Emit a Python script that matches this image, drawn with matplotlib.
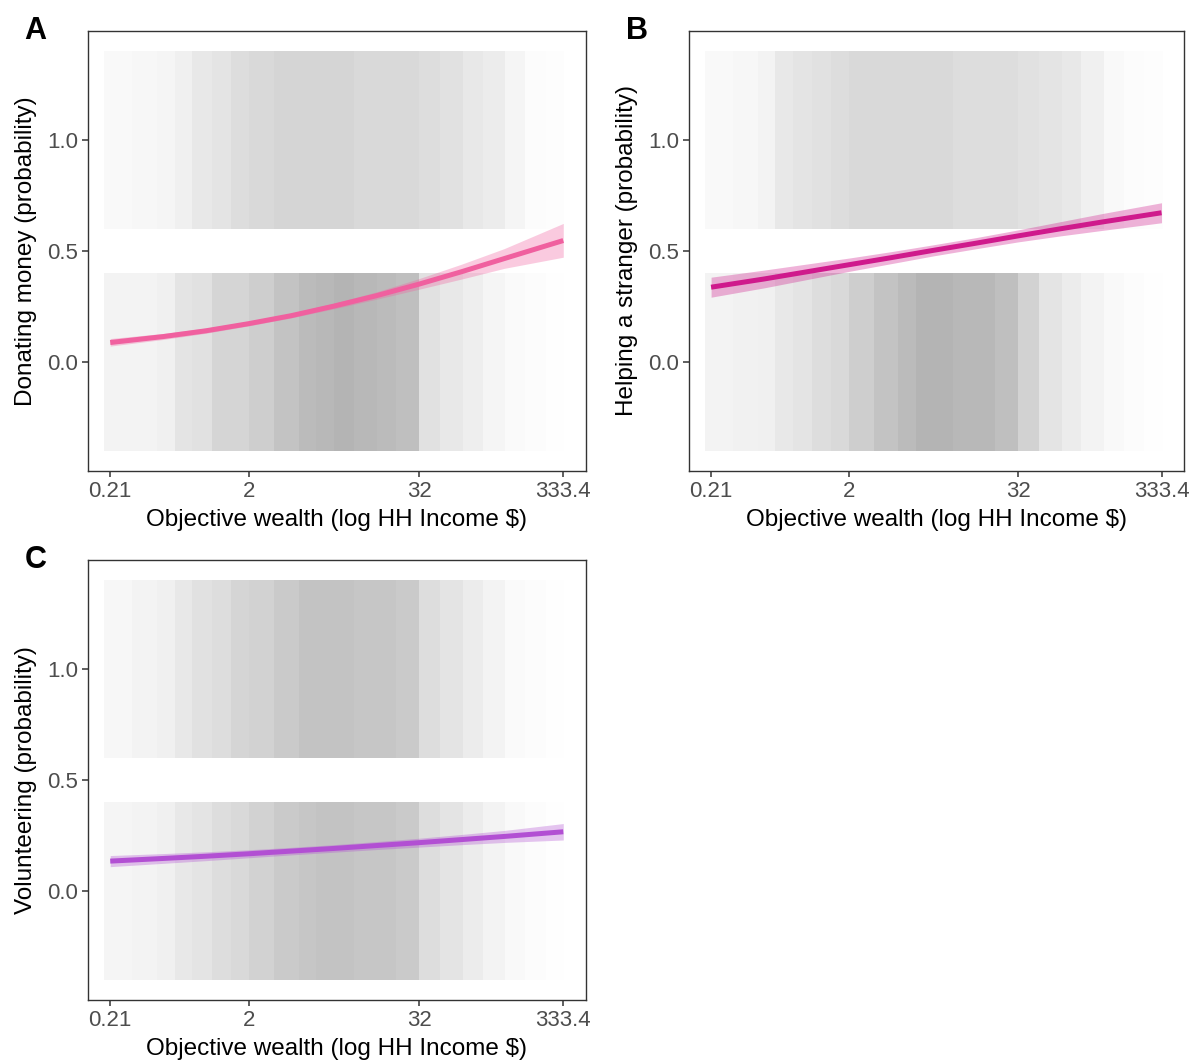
import numpy as np
import matplotlib
matplotlib.use("Agg")
import matplotlib.pyplot as plt

plt.rcParams['font.family'] = ['Liberation Sans', 'DejaVu Sans']

# Income bins (thousands $) shared by the three outcomes
bin_edges = [0.19, 0.3, 0.45, 0.6, 0.8, 1.1, 1.5, 2.0, 3.0, 4.5, 6, 8, 11, 16,
             22, 32, 45, 65, 90, 130, 180, 250, 340]

# Relative density of observations per bin (0 = none, 1 = densest), outcome = 0 / 1
donate_no = [0.15, 0.15, 0.2, 0.35, 0.4, 0.55, 0.55, 0.65, 0.8, 0.9, 0.95, 1.0,
             0.95, 0.9, 0.85, 0.4, 0.3, 0.22, 0.12, 0.06, 0.03, 0.01]
donate_yes = [0.08, 0.1, 0.12, 0.2, 0.3, 0.35, 0.45, 0.5, 0.55, 0.55, 0.55, 0.55,
              0.5, 0.5, 0.5, 0.45, 0.4, 0.3, 0.25, 0.12, 0.04, 0.02]
help_no = [0.15, 0.18, 0.2, 0.3, 0.35, 0.45, 0.5, 0.65, 0.8, 0.9, 1.0, 1.0,
           0.95, 0.95, 0.85, 0.6, 0.35, 0.25, 0.15, 0.08, 0.03, 0.01]
help_yes = [0.08, 0.1, 0.15, 0.3, 0.35, 0.4, 0.45, 0.5, 0.5, 0.5, 0.5, 0.5,
            0.45, 0.45, 0.45, 0.4, 0.35, 0.3, 0.2, 0.08, 0.03, 0.02]
volunteer_no = [0.12, 0.15, 0.2, 0.3, 0.35, 0.45, 0.5, 0.6, 0.7, 0.75, 0.8, 0.8,
                0.75, 0.75, 0.7, 0.45, 0.35, 0.25, 0.15, 0.08, 0.03, 0.01]
volunteer_yes = [0.1, 0.15, 0.2, 0.3, 0.4, 0.45, 0.55, 0.6, 0.7, 0.8, 0.8, 0.8,
                 0.75, 0.75, 0.7, 0.45, 0.35, 0.25, 0.15, 0.06, 0.03, 0.01]

# Fitted logistic curves with 95% CI
fit_x = [0.21, 0.5, 1, 2, 4, 8, 16, 32, 64, 128, 333.4]
donate_fit = [0.088, 0.115, 0.141, 0.173, 0.209, 0.252, 0.299, 0.351, 0.407, 0.466, 0.547]
donate_lo = [0.072, 0.102, 0.130, 0.163, 0.199, 0.240, 0.283, 0.328, 0.374, 0.422, 0.472]
donate_hi = [0.106, 0.129, 0.153, 0.184, 0.220, 0.265, 0.316, 0.376, 0.441, 0.511, 0.624]
help_fit = [0.337, 0.374, 0.406, 0.438, 0.470, 0.503, 0.535, 0.568, 0.600, 0.631, 0.672]
help_lo = [0.292, 0.334, 0.371, 0.408, 0.443, 0.478, 0.510, 0.541, 0.568, 0.593, 0.627]
help_hi = [0.382, 0.414, 0.441, 0.468, 0.497, 0.528, 0.560, 0.595, 0.632, 0.669, 0.717]
volunteer_fit = [0.135, 0.147, 0.157, 0.168, 0.180, 0.192, 0.205, 0.218, 0.232, 0.246, 0.267]
volunteer_lo = [0.110, 0.125, 0.137, 0.150, 0.163, 0.175, 0.187, 0.198, 0.209, 0.219, 0.230]
volunteer_hi = [0.160, 0.169, 0.177, 0.186, 0.197, 0.209, 0.223, 0.238, 0.255, 0.273, 0.304]

x_ticks = [0.21, 2, 32, 333.4]
x_ticklabels = ["0.21", "2", "32", "333.4"]
y_ticks = [0.0, 0.5, 1.0]
y_ticklabels = ["0.0", "0.5", "1.0"]
x_title = "Objective wealth (log HH Income $)"

panels = [
    dict(tag="A", ylabel="Donating money (probability)", no=donate_no, yes=donate_yes,
         fit=donate_fit, lo=donate_lo, hi=donate_hi, color="#f0609f",
         rect=[0.0732, 0.5561, 0.4167, 0.4147]),
    dict(tag="B", ylabel="Helping a stranger (probability)", no=help_no, yes=help_yes,
         fit=help_fit, lo=help_lo, hi=help_hi, color="#cf1a8c",
         rect=[0.5757, 0.5561, 0.4143, 0.4147]),
    dict(tag="C", ylabel="Volunteering (probability)", no=volunteer_no, yes=volunteer_yes,
         fit=volunteer_fit, lo=volunteer_lo, hi=volunteer_hi, color="#b24fd3",
         rect=[0.0732, 0.0575, 0.4167, 0.4147]),
]

fig = plt.figure(figsize=(11.96, 10.61), dpi=100)
fig.patch.set_facecolor("white")

edges = np.array(bin_edges)
lefts = edges[:-1]
widths = edges[1:] - edges[:-1]

for p in panels:
    ax = fig.add_axes(p["rect"])
    ax.set_xscale("log")
    # jittered responses rendered as density bands around 0 and 1
    for dens, base in ((p["no"], -0.4), (p["yes"], 0.6)):
        for l, w, d in zip(lefts, widths, dens):
            ax.bar(l, 0.8, width=w, bottom=base, align="edge",
                   color="#b4b4b4", alpha=d, linewidth=0, zorder=1)
    ax.fill_between(fit_x, p["lo"], p["hi"], color=p["color"], alpha=0.33,
                    linewidth=0, zorder=2)
    ax.plot(fit_x, p["fit"], color=p["color"], linewidth=3.6, zorder=3,
            solid_capstyle="butt")

    ax.set_xlim(10 ** -0.838, 10 ** 2.683)
    ax.set_ylim(-0.49, 1.49)
    ax.set_xticks(x_ticks)
    ax.set_xticklabels(x_ticklabels)
    ax.xaxis.set_minor_locator(matplotlib.ticker.NullLocator())
    ax.set_yticks(y_ticks)
    ax.set_yticklabels(y_ticklabels)
    ax.tick_params(axis="both", direction="out", length=4, width=1.1,
                   color="#333333", labelcolor="#4d4d4d", labelsize=16, pad=3)
    for s in ax.spines.values():
        s.set_color("#333333")
        s.set_linewidth(1.0)
    ax.set_xlabel(x_title, fontsize=17.5, color="black", labelpad=5)
    ax.set_ylabel(p["ylabel"], fontsize=17.5, color="black", labelpad=7)
    ax.text(-0.127, 1.0, p["tag"], transform=ax.transAxes, fontsize=22,
            fontweight="bold", va="center", ha="left")

fig.savefig("out.png", dpi=100, facecolor="white")
